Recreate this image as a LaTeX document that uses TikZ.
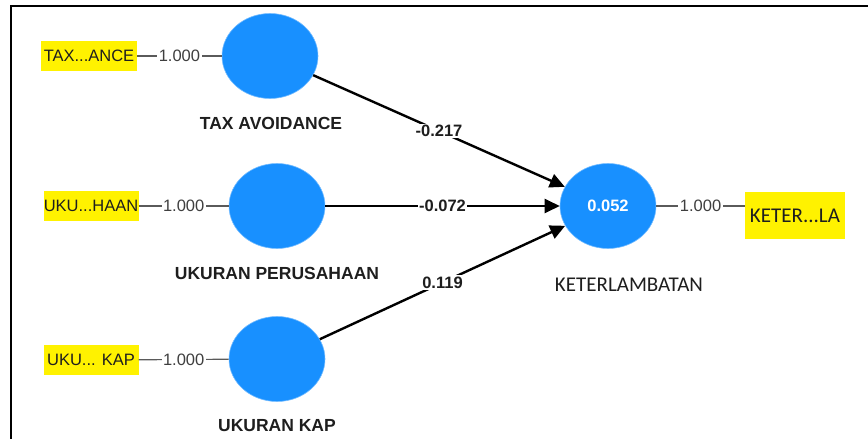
\documentclass[tikz,border=0pt]{standalone}
\usepackage{fontspec}
\setmainfont{Liberation Sans}
\newfontfamily\calib{Carlito}
\usetikzlibrary{shapes.geometric,arrows.meta}
\definecolor{lvblue}{RGB}{24,144,255}
\definecolor{txt}{RGB}{30,30,30}
\definecolor{loadgray}{RGB}{90,90,90}
\tikzset{
  lv/.style={ellipse,fill=lvblue,draw=lvblue!60!white,line width=0.6pt,minimum width=96pt,minimum height=85pt,inner sep=0pt},
  ind/.style={rectangle,fill=yellow,minimum height=30pt,inner sep=0pt,text=txt,font=\fontsize{16.5}{19}\selectfont},
  lvname/.style={font=\bfseries\fontsize{17.5}{20}\selectfont,text=txt,inner sep=0pt},
  loadline/.style={draw=loadgray,line width=1.2pt},
  loadlbl/.style={fill=white,inner sep=1.5pt,text=loadgray!70!black,font=\fontsize{16.5}{19}\selectfont},
  path/.style={draw=black,line width=2.4pt,-{Triangle[length=15pt,width=14pt]}},
  pathlbl/.style={fill=white,inner sep=1.5pt,text=txt,font=\bfseries\fontsize{16.5}{19}\selectfont,pos=0.5},
  frame/.style={draw=black,line width=2pt}
}
\begin{document}
\begin{tikzpicture}[x=1pt,y=-1pt]
\useasboundingbox (0,0) rectangle (868,439);
\draw[frame] (11,439) -- (11,6) -- (868,6);

% latent variables
\node[lv] (ta)  at (270,56)  {};
\node[lv] (up)  at (277,206) {};
\node[lv] (kap) at (277,359) {};
\node[lv,text=white,font=\bfseries\fontsize{16.5}{19}\selectfont] (ket) at (608,206) {0.052};

% names
\node[lvname] (nta)  at (271,123) {TAX AVOIDANCE};
\node[lvname] (nup)  at (277,273) {UKURAN PERUSAHAAN};
\node[lvname] (nkap) at (277,426) {UKURAN KAP};
\node[inner sep=0pt,text=txt,font=\calib\fontsize{21}{24}\selectfont] (nket) at (629,285) {KETERLAMBATAN};

% indicators
\node[ind,minimum width=96pt] (ita)  at (89,56)  {TAX...ANCE};
\node[ind,minimum width=95pt] (iup)  at (91,206) {UKU...HAAN};
\node[ind,minimum width=95pt] (ikap) at (91,360) {UKU... KAP};
\node[ind,minimum width=100pt,minimum height=47pt,font=\calib\fontsize{21}{24}\selectfont] (iket) at (795,215.5) {KETER...LA};

% loadings
\draw[loadline] (ita) -- node[loadlbl]{1.000} (ta);
\draw[loadline] (iup) -- node[loadlbl]{1.000} (up);
\draw[loadline] (ikap) -- node[loadlbl]{1.000} (kap);
\draw[loadline] (ket) -- node[loadlbl]{1.000} (ket -| iket.west);

% paths
\draw[path] (ta) -- node[pathlbl]{-0.217} (ket);
\draw[path] (up) -- node[pathlbl]{-0.072} (ket);
\draw[path] (kap) -- node[pathlbl]{0.119} (ket);
\end{tikzpicture}
\end{document}
